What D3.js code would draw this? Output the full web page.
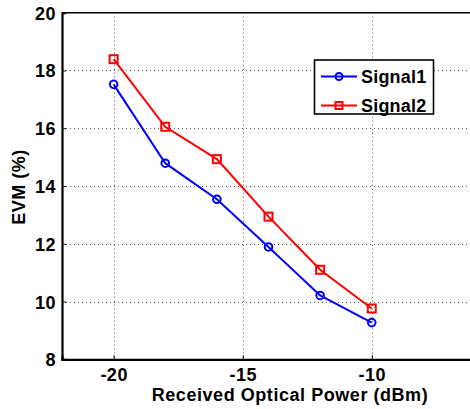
<!DOCTYPE html>
<html>
<head>
<meta charset="utf-8">
<script src="https://cdn.jsdelivr.net/npm/d3@7"></script>
<style>
html,body{margin:0;padding:0;background:#fff;}
svg{display:block;}
text{font-family:"Liberation Sans",Arial,sans-serif;font-weight:bold;}
</style>
</head>
<body>
<svg id="chart" width="470" height="409"></svg>
<script>
const powers = [-20, -18, -16, -14, -12, -10];
const signal1 = [17.52, 14.79, 13.54, 11.89, 10.21, 9.27];
const signal2 = [18.39, 16.05, 14.93, 12.94, 11.10, 9.76];
const seriesNames = ["Signal1", "Signal2"];
const xTicks = [-20, -15, -10];
const yTicks = [8, 10, 12, 14, 16, 18, 20];
const xLabel = "Received Optical Power (dBm)";
const yLabel = "EVM (%)";

const svg = d3.select("#chart");
const L = 62, R = 475, T = 12.7, B = 359.3;
const x = d3.scaleLinear().domain([-22, -6]).range([L, R]);
const y = d3.scaleLinear().domain([8, 20]).range([B, T]);

// grid
const grid = svg.append("g").attr("stroke", "#555").attr("stroke-width", 1).attr("stroke-dasharray", "1,3");
grid.selectAll("line.v").data(xTicks).join("line")
  .attr("x1", d => Math.round(x(d)) + 0.5).attr("x2", d => Math.round(x(d)) + 0.5)
  .attr("y1", T).attr("y2", B);
grid.selectAll("line.h").data(yTicks.filter(d => d > 8 && d < 20)).join("line")
  .attr("y1", d => Math.round(y(d)) + 0.5).attr("y2", d => Math.round(y(d)) + 0.5)
  .attr("x1", L).attr("x2", R);

// top border
svg.append("line").attr("x1", L).attr("x2", R).attr("y1", T).attr("y2", T)
  .attr("stroke", "#000").attr("stroke-width", 1.6);

// axes
const fmt = d => String(d);
const xAxis = d3.axisBottom(x).tickValues(xTicks).tickSize(-4).tickPadding(10).tickFormat(fmt);
const gx = svg.append("g").attr("transform", `translate(0,${B})`).call(xAxis);
const yAxis = d3.axisLeft(y).tickValues(yTicks).tickSize(-4).tickPadding(6).tickFormat(fmt);
const gy = svg.append("g").attr("transform", `translate(${L},0)`).call(yAxis);
[gx, gy].forEach(g => {
  g.select(".domain").attr("stroke", "#000").attr("stroke-width", 2.2);
  g.selectAll(".tick line").attr("stroke", "#000").attr("stroke-width", 1);
  g.selectAll("text").attr("fill", "#000").style("font-size", "18px")
    .style("font-family", "'Liberation Sans',Arial,sans-serif").style("font-weight", "bold");
});
gx.selectAll(".tick text").attr("dy", "0").attr("y", 22).style("letter-spacing", "0.5px");
gy.selectAll(".tick text").attr("x", -6).attr("dy", "0.36em").style("letter-spacing", "0.5px");

// axis titles
svg.append("text").attr("x", 290).attr("y", 401).attr("text-anchor", "middle")
  .style("font-size", "18px").style("letter-spacing", "0.55px").text(xLabel);
svg.append("text").attr("transform", "translate(25,187) rotate(-90)").attr("text-anchor", "middle")
  .style("font-size", "18px").style("letter-spacing", "0.5px").text(yLabel);

// series
const colors = ["#0000ff", "#ff0000"];
const allSeries = [signal1, signal2];
const line = d3.line().x((d, i) => x(powers[i])).y(d => y(d));
allSeries.forEach((s, k) => {
  svg.append("path").datum(s).attr("d", line).attr("fill", "none")
    .attr("stroke", colors[k]).attr("stroke-width", 2);
  if (k === 0) {
    svg.selectAll(null).data(s).join("circle")
      .attr("cx", (d, i) => x(powers[i])).attr("cy", d => y(d)).attr("r", 3.8)
      .attr("fill", "none").attr("stroke", colors[k]).attr("stroke-width", 2);
  } else {
    svg.selectAll(null).data(s).join("rect")
      .attr("x", (d, i) => x(powers[i]) - 4).attr("y", d => y(d) - 4)
      .attr("width", 8).attr("height", 8)
      .attr("fill", "none").attr("stroke", colors[k]).attr("stroke-width", 2);
  }
});

// legend
const lg = svg.append("g");
lg.append("rect").attr("x", 314.5).attr("y", 60).attr("width", 119).attr("height", 54)
  .attr("fill", "#fff").attr("stroke", "#000").attr("stroke-width", 1.6);
const rowsY = [76.5, 105.5];
seriesNames.forEach((name, k) => {
  const yy = rowsY[k];
  lg.append("line").attr("x1", 321).attr("x2", 357).attr("y1", yy).attr("y2", yy)
    .attr("stroke", colors[k]).attr("stroke-width", 2);
  if (k === 0) {
    lg.append("circle").attr("cx", 339).attr("cy", yy).attr("r", 3.5)
      .attr("fill", "none").attr("stroke", colors[k]).attr("stroke-width", 2);
  } else {
    lg.append("rect").attr("x", 335.5).attr("y", yy - 3.5).attr("width", 7).attr("height", 7)
      .attr("fill", "none").attr("stroke", colors[k]).attr("stroke-width", 2);
  }
  lg.append("text").attr("x", 361).attr("y", yy + 6.5)
    .style("font-size", "18px").style("letter-spacing", "0.2px").text(name);
});
</script>
</body>
</html>
